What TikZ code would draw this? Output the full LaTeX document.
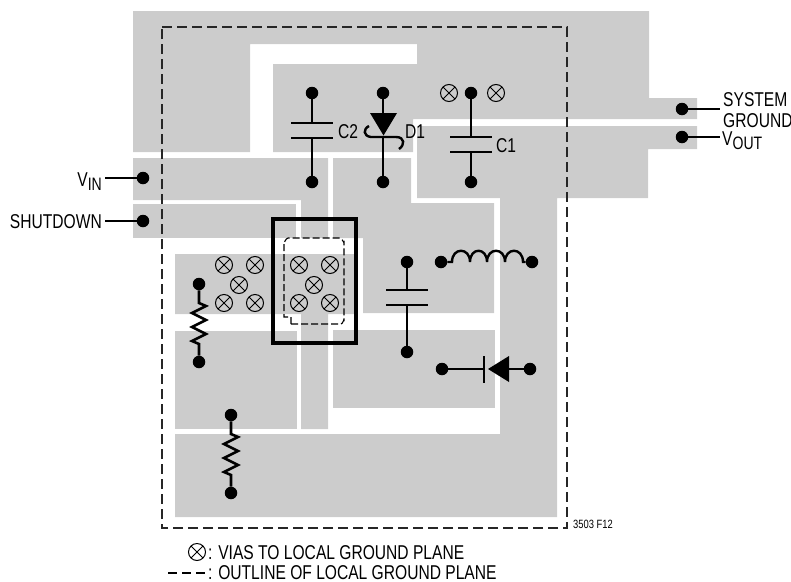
\documentclass[tikz,border=0pt]{standalone}
\usepackage{fontspec}
\setmainfont[FakeStretch=0.78]{Liberation Sans}
\newcommand{\lowtxt}[1]{\raisebox{-4pt}{\fontsize{18}{18}\selectfont #1}}
\begin{document}
\begin{tikzpicture}[x=1pt,y=-1pt,line cap=butt,
    plane/.style={fill=black!20},
    outline/.style={draw=black!85,line width=1.3pt,dash pattern=on 10pt off 5pt},
    wire/.style={draw,line width=2.6pt},
    plate/.style={draw,line width=2.8pt},
    pad/.style={circle,fill=black,inner sep=0pt,minimum size=12.5pt},
    via/.style={circle,draw,line width=1pt,inner sep=0pt,minimum size=17pt,
        path picture={\draw[line width=1pt] (path picture bounding box.north west)--(path picture bounding box.south east)
            (path picture bounding box.north east)--(path picture bounding box.south west);}},
    lab/.style={inner sep=0pt,anchor=base west,font=\fontsize{20}{21}\selectfont},
    labr/.style={lab,anchor=base east}]
                \useasboundingbox (0,0) rectangle (791,581);
                \fill[plane](133,11)--(649,11)--(649,98)--(697,98)--(697,119)--(413,119)--(413,152)--(273,152)--(273,64)--(417,64)--(417,44)--(250,44)--(250,152)--(133,152)--cycle;
                \fill[plane](133,158)--(328,158)--(328,238)--(301,238)--(301,200)--(133,200)--cycle;
                \fill[plane](133,204)--(296,204)--(296,238)--(133,238)--cycle;
                \fill[plane](333,158)--(411,158)--(411,203)--(494,203)--(494,313)--(363,313)--(363,238)--(333,238)--cycle;
                \fill[plane](175,254)--(355,254)--(355,314)--(328,314)--(328,429)--(301,429)--(301,314)--(175,314)--cycle;
                \fill[plane](175,331)--(297,331)--(297,429)--(175,429)--cycle;
                \fill[plane](333,330)--(495,330)--(495,408)--(333,408)--cycle;
                \fill[plane](417,126)--(697,126)--(697,149)--(648,149)--(648,198)--(557,198)--(557,517)--(175,517)--(175,434)--(500,434)--(500,198)--(417,198)--cycle;
                \draw[outline](162,27)--(567,27)--(567,528)--(162,528)--cycle;
                \draw[line width=3.2pt,line join=miter](273,219)rectangle(356,343);
                \draw[line width=1.1pt,dash pattern=on 7pt off 3pt](291,324)--(341,324)to[out=0,in=90,looseness=1](344,320)--(344,242)to[out=-90,in=0,looseness=1](340,238)--(288,238)to[out=180,in=-90,looseness=1](284,242)--(284,317)--(291,317)--cycle;
                \node[via] (va) at (224,265){};
                \node[via] (vb) at (255,265){};
                \node[via] (vc) at (239,285){};
                \node[via] (vd) at (224,303){};
                \node[via] (ve) at (255,303){};
                \node[via] (vf) at (299,265){};
                \node[via] (vg) at (330,265){};
                \node[via] (vh) at (314,285){};
                \node[via] (vi) at (299,303){};
                \node[via] (vj) at (330,303){};
                \node[via] (vk) at (449,93){};
                \node[via] (vl) at (496,93){};
                \node[pad] (c2top) at (312,93){};
                \node[pad] (c2bot) at (312,182){};
                \coordinate (c2p) at (312,123);
                \coordinate (c2q) at (312,138);
                \draw[wire] (c2top)--(c2p);
                \draw[wire] (c2q)--(c2bot);
                \draw[plate] (291,123)--(333,123);
                \draw[plate] (291,138)--(333,138);
                \node[lab] (c2lab) at (338,138){C2};
                \node[pad] (d1top) at (383,93){};
                \node[pad] (d1bot) at (383,182){};
                \coordinate (d1p) at (383,113);
                \coordinate (d1q) at (383,136);
                \draw[wire] (d1top)--(d1p);
                \draw[wire] (d1q)--(d1bot);
                \fill (370,113)--(397,113)--(383.5,135.5)--cycle;
                \draw[line width=2.4pt] (369,126)..controls (363,129) and (363,136) .. (371,137)--(396,137)..controls (405,137) and (405,145) .. (399,149);
                \node[lab] (d1lab) at (405,138){D1};
                \node[pad] (c1top) at (471,93){};
                \node[pad] (c1bot) at (471,182){};
                \coordinate (c1p) at (471,137);
                \coordinate (c1q) at (471,152);
                \draw[wire] (c1top)--(c1p);
                \draw[wire] (c1q)--(c1bot);
                \draw[plate] (450,137)--(492,137);
                \draw[plate] (450,152)--(492,152);
                \node[lab] (c1lab) at (496,152){C1};
                \node[pad] (sysp) at (682,109){};
                \coordinate (sysq) at (720,109);
                \draw[wire] (sysp)--(sysq);
                \node[lab] (syslab) at (723,106){SYSTEM};
                \node[lab] (gndlab) at (723,127){GROUND};
                \node[pad] (vop) at (682,137){};
                \coordinate (voq) at (720,137);
                \draw[wire] (vop)--(voq);
                \node[lab] (volab) at (722,145){V\lowtxt{OUT}};
                \node[pad] (vinp) at (143,178){};
                \coordinate (vinq) at (105,178);
                \draw[wire] (vinp)--(vinq);
                \node[labr] (vinlab) at (102,186){V\lowtxt{IN}};
                \node[pad] (shdp) at (143,221){};
                \coordinate (shdq) at (105,221);
                \draw[wire] (shdp)--(shdq);
                \node[labr] (shdlab) at (102,228){SHUTDOWN};
                \node[pad] (r1top) at (199,284){};
                \node[pad] (r1bot) at (199,362){};
                \draw[wire,line join=miter] (r1top)--(199,303)--(206,306)--(192,313)--(206,320)--(192,327)--(206,334)--(192,341)--(199,344)--(r1bot);
                \node[pad] (r2top) at (231,415){};
                \node[pad] (r2bot) at (231,493){};
                \draw[wire,line join=miter] (r2top)--(231,434)--(238,437)--(224,444)--(238,451)--(224,458)--(238,465)--(224,472)--(231,475)--(r2bot);
                \node[pad] (c3top) at (407,262){};
                \node[pad] (c3bot) at (407,352){};
                \coordinate (c3p) at (407,290);
                \coordinate (c3q) at (407,305);
                \draw[wire] (c3top)--(c3p);
                \draw[wire] (c3q)--(c3bot);
                \draw[plate] (386,290)--(428,290);
                \draw[plate] (386,305)--(428,305);
                \node[pad] (lleft) at (441,262){};
                \node[pad] (lright) at (532,262){};
                \draw[line width=2.4pt] (lleft)--(452,262)..controls (452,247) and (470,247) .. (470,262)..controls (470,247) and (487,247) .. (487,262)..controls (487,247) and (505,247) .. (505,262)..controls (505,247) and (523,247) .. (523,262)--(lright);
                \node[pad] (dleft) at (442,369){};
                \node[pad] (dright) at (530,369){};
                \coordinate (dp) at (484,369);
                \coordinate (dq) at (509,369);
                \draw[wire] (dleft)--(dp);
                \draw[wire] (dq)--(dright);
                \draw[plate] (484,356)--(484,383);
                \fill (488,369)--(509,356)--(509,382)--cycle;
                \node[inner sep=0pt,anchor=base west,font=\fontsize{12}{12}\selectfont] (figlab) at (573,528){3503 F12};
                \node[via] (legvia) at (197,552){};
                \node[lab] (vialab) at (208,559){: VIAS TO LOCAL GROUND PLANE};
                \coordinate (dasha) at (168,573);
                \coordinate (dashb) at (205,573);
                \draw[line width=1.3pt,dash pattern=on 9pt off 5pt] (dasha)--(dashb);
                \node[lab] (outlab) at (208,579){: OUTLINE OF LOCAL GROUND PLANE};
\end{tikzpicture}
\end{document}
